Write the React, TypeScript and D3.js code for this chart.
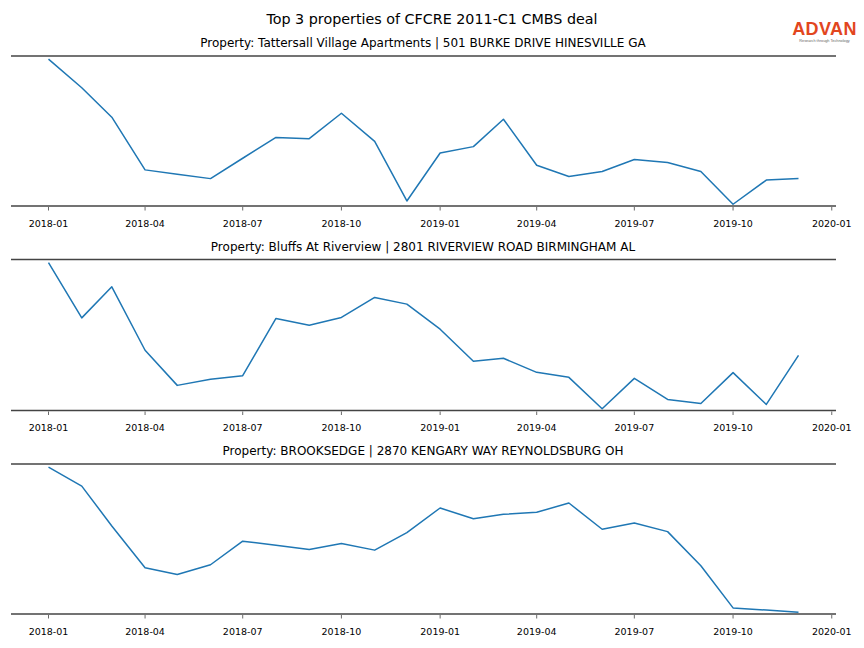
import React from "react";
import * as d3 from "d3";

const W = 864;
const H = 648;

const mainTitle = "Top 3 properties of CFCRE 2011-C1 CMBS deal";
const panelTitles = [
  "Property: Tattersall Village Apartments | 501 BURKE DRIVE HINESVILLE GA",
  "Property: Bluffs At Riverview | 2801 RIVERVIEW ROAD BIRMINGHAM AL",
  "Property: BROOKSEDGE | 2870 KENGARY WAY REYNOLDSBURG OH",
];

const months = [
  "2018-01", "2018-02", "2018-03", "2018-04", "2018-05", "2018-06",
  "2018-07", "2018-08", "2018-09", "2018-10", "2018-11", "2018-12",
  "2019-01", "2019-02", "2019-03", "2019-04", "2019-05", "2019-06",
  "2019-07", "2019-08", "2019-09", "2019-10", "2019-11", "2019-12",
];

const tattersall = [
  1517, 1230, 933, 403, 360, 315, 520, 730, 717, 973, 690, 90,
  573, 637, 913, 450, 337, 387, 507, 477, 387, 57, 300, 317,
];
const bluffs = [
  1523, 973, 1283, 650, 300, 360, 397, 967, 900, 977, 1177, 1110,
  860, 540, 570, 430, 380, 67, 370, 160, 120, 427, 110, 600,
];
const brooksedge = [
  1510, 1320, 920, 500, 433, 530, 767, 725, 683, 743, 677, 853,
  1100, 993, 1037, 1057, 1150, 887, 950, 863, 520, 97, 75, 53,
];
const seriesList = [tattersall, bluffs, brooksedge];

const tickLabels = [
  "2018-01", "2018-04", "2018-07", "2018-10",
  "2019-01", "2019-04", "2019-07", "2019-10", "2020-01",
];

const parse = d3.utcParse("%Y-%m");
const dates = months.map((m) => parse(m) as Date);
const tickDates = tickLabels.map((m) => parse(m) as Date);

// panel geometry
const panels = [
  { top: 56, bottom: 206, titleY: 47 },
  { top: 259.5, bottom: 410.5, titleY: 251 },
  { top: 464, bottom: 614, titleY: 455 },
];
const left = 11;
const right = 836;

const ext = d3.extent(dates) as [Date, Date];
const spanMs = ext[1].getTime() - ext[0].getTime();
const x = d3
  .scaleUtc()
  .domain([
    new Date(ext[0].getTime() - spanMs * 0.05),
    new Date(ext[1].getTime() + spanMs * 0.05),
  ])
  .range([left, right]);

const FONT = "DejaVu Sans, sans-serif";
const spineColor = "#444";

export default function App() {
  return (
    <svg
      width={W}
      height={H}
      style={{ position: "absolute", left: 0, top: 0, background: "#fff" }}
      fontFamily={FONT}
    >
      <rect width={W} height={H} fill="#fff" />
      <text x={432} y={24} textAnchor="middle" fontSize={14.3} fill="#000">
        {mainTitle}
      </text>
      {/* logo */}
      <text
        x={824.5}
        y={34.5}
        textAnchor="middle"
        fontSize={18}
        fontWeight="bold"
        fill="#e2461e"
        fontFamily="Liberation Sans, Arial, sans-serif"
        letterSpacing={0.4}
      >
        ADVAN
      </text>
      <text
        x={824.5}
        y={41.5}
        textAnchor="middle"
        fontSize={3.8}
        fill="#666"
        fontFamily="Liberation Sans, Arial, sans-serif"
      >
        Research through Technology
      </text>
      {panels.map((p, i) => {
        const vals = seriesList[i];
        const [mn, mx] = d3.extent(vals) as [number, number];
        const span = mx - mn;
        const y = d3
          .scaleLinear()
          .domain([mn - span * 0.012, mx + span * 0.022])
          .range([p.bottom, p.top]);
        const line = d3
          .line<number>()
          .x((_, j) => x(dates[j]))
          .y((d) => y(d));
        return (
          <g key={i}>
            <text x={423} y={p.titleY} textAnchor="middle" fontSize={12} fill="#000">
              {panelTitles[i]}
            </text>
            <path
              d={line(vals) || ""}
              fill="none"
              stroke="#1f77b4"
              strokeWidth={1.5}
              strokeLinejoin="round"
            />
            <line x1={left} x2={right} y1={p.top} y2={p.top} stroke={spineColor} strokeWidth={1.6} />
            <line x1={left} x2={right} y1={p.bottom} y2={p.bottom} stroke={spineColor} strokeWidth={1.6} />
            {tickDates.map((t, k) => (
              <g key={k} transform={`translate(${x(t)},${p.bottom})`}>
                <line y1={1} y2={4.5} stroke="#444" strokeWidth={0.8} />
                <text y={20.5} textAnchor="middle" fontSize={9.5} fill="#000">
                  {tickLabels[k]}
                </text>
              </g>
            ))}
          </g>
        );
      })}
    </svg>
  );
}
